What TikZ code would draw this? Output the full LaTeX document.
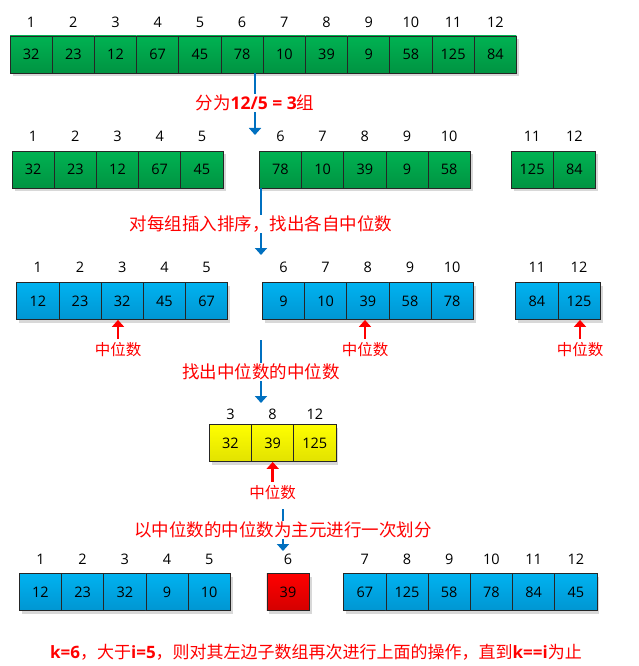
\documentclass[tikz,border=0pt]{standalone}
\usepackage{fontspec}
\setmainfont{Open Sans}
\newfontfamily\cjk{Noto Sans CJK SC}
\definecolor{cellgreen}{RGB}{0,178,82}
\definecolor{cellgreendk}{RGB}{0,148,66}
\definecolor{cellblue}{RGB}{0,178,240}
\definecolor{cellbluedk}{RGB}{0,150,210}
\definecolor{cellyellow}{RGB}{255,255,0}
\definecolor{cellyellowdk}{RGB}{226,226,0}
\definecolor{cellred}{RGB}{255,0,0}
\definecolor{cellreddk}{RGB}{212,0,0}
\definecolor{flowblue}{RGB}{0,112,192}
\usepackage{tikz}
\usetikzlibrary{arrows.meta, positioning, calc, shadows}
\newcommand{\latinbf}[1]{{\rmfamily\bfseries #1}}

\tikzset{
  cell/.style={draw=black!85, line width=0.8pt, minimum width=42.2pt, minimum height=37pt, inner sep=0pt,
    font=\fontsize{14.5}{14.5}\selectfont,
    drop shadow={shadow xshift=2.5pt, shadow yshift=-3pt, fill=black!30, opacity=0.5}},
  green cell/.style={cell, top color=cellgreen, bottom color=cellgreendk},
  blue cell/.style={cell, top color=cellblue, bottom color=cellbluedk},
  yellow cell/.style={cell, top color=cellyellow, bottom color=cellyellowdk},
  red cell/.style={cell, top color=cellred, bottom color=cellreddk},
  idx/.style={font=\fontsize{14.5}{14.5}\selectfont, inner sep=0pt},
  flow/.style={color=flowblue, line width=2pt, -{Triangle[width=12pt,length=7pt]}},
  pick/.style={color=red, line width=2.5pt, -{Triangle[width=12pt,length=7pt]}},
  caption/.style={text=red, fill=white, inner sep=1pt, font=\cjk\fontsize{17.5}{17.5}\selectfont},
  tag/.style={text=red, inner sep=1pt, font=\cjk\fontsize{15.5}{15.5}\selectfont},
}

\begin{document}
\begin{tikzpicture}[x=1pt, y=-1pt]
  \fill[white] (0,0) rectangle (638,666);
  \useasboundingbox (0,0) rectangle (638,666);

  % original array
  \foreach \v [count=\i] in {32,23,12,67,45,78,10,39,9,58,125,84}
    \node[green cell] (orig\i) at ({10+42.2*(\i-0.5)},54.5) {\v};
  \foreach \i in {1,...,12}
    \node[idx] (oidx\i) at ($(orig\i.north)+(0,-13)$) {\i};

  % groups of five
  \foreach \v [count=\i] in {32,23,12,67,45}
    \node[green cell] (grp\i) at ({12+42.2*(\i-0.5)},169.5) {\v};
  \foreach \v [count=\i from 6] in {78,10,39,9,58}
    \node[green cell] (grp\i) at ({259.3+42.2*(\i-5.5)},169.5) {\v};
  \foreach \v [count=\i from 11] in {125,84}
    \node[green cell] (grp\i) at ({511+42.2*(\i-10.5)},169.5) {\v};
  \foreach \i in {1,...,12}
    \node[idx] (gidx\i) at ($(grp\i.north)+(0,-14)$) {\i};

  % sorted groups
  \foreach \v [count=\i] in {12,23,32,45,67}
    \node[blue cell] (srt\i) at ({16.7+42.2*(\i-0.5)},301) {\v};
  \foreach \v [count=\i from 6] in {9,10,39,58,78}
    \node[blue cell] (srt\i) at ({262.3+42.2*(\i-5.5)},301) {\v};
  \foreach \v [count=\i from 11] in {84,125}
    \node[blue cell] (srt\i) at ({515.7+42.2*(\i-10.5)},301) {\v};
  \foreach \i in {1,...,12}
    \node[idx] (sidx\i) at ($(srt\i.north)+(0,-15)$) {\i};

  % medians
  \foreach \v/\k [count=\i] in {32/3,39/8,125/12} {
    \node[yellow cell] (med\i) at ({209.3+42.2*(\i-0.5)},443) {\v};
    \node[idx] (midx\i) at ($(med\i.north)+(0,-10)$) {\k};
  }

  % partition
  \foreach \v [count=\i] in {12,23,32,9,10}
    \node[blue cell] (part\i) at ({19.3+42.2*(\i-0.5)},592) {\v};
  \node[red cell] (part6) at (288,592) {39};
  \foreach \v [count=\i from 7] in {67,125,58,78,84,45}
    \node[blue cell] (part\i) at ({343.7+42.2*(\i-6.5)},592) {\v};
  \foreach \i in {1,...,12}
    \node[idx] (pidx\i) at ($(part\i.north)+(0,-13.5)$) {\i};

  % flow arrows
  \coordinate (a1e) at (255,135);
  \coordinate (a2e) at (261,255);
  \coordinate (a3s) at (261,340);
  \coordinate (a3e) at (261,403);
  \coordinate (a4s) at (283,509);
  \coordinate (a4e) at (283,551);
  \draw[flow] (orig6.south -| a1e) -- (a1e);
  \draw[flow] (grp6.south -| a2e) -- (a2e);
  \draw[flow] (a3s) -- (a3e);
  \draw[flow] (a4s) -- (a4e);

  \node[caption] (cap1) at (255,103) {分为\latinbf{12/5 = 3}组};
  \node[caption] (cap2) at (261,224) {对每组插入排序，找出各自中位数};
  \node[caption] (cap3) at (261,372) {找出中位数的中位数};
  \node[caption] (cap4) at (283,530) {以中位数的中位数为主元进行一次划分};

  % median marks
  \node[tag] (tag1) at (118,350) {中位数};
  \node[tag] (tag2) at (365,350) {中位数};
  \node[tag] (tag3) at (580,350) {中位数};
  \node[tag] (tag4) at (272.7,493) {中位数};
  \draw[pick] ([yshift=3pt]tag1.north) -- (tag1.north |- srt3.south);
  \draw[pick] ([yshift=3pt]tag2.north) -- (tag2.north |- srt8.south);
  \draw[pick] ([yshift=3pt]tag3.north) -- (tag3.north |- srt12.south);
  \draw[pick] ([yshift=3pt]tag4.north) -- (tag4.north |- med2.south);

  \node[caption, font=\cjk\fontsize{17}{17}\selectfont] (note) at (316,652) {\latinbf{k=6}，大于\latinbf{i=5}，则对其左边子数组再次进行上面的操作，直到\latinbf{k==i}为止};
\end{tikzpicture}
\end{document}
